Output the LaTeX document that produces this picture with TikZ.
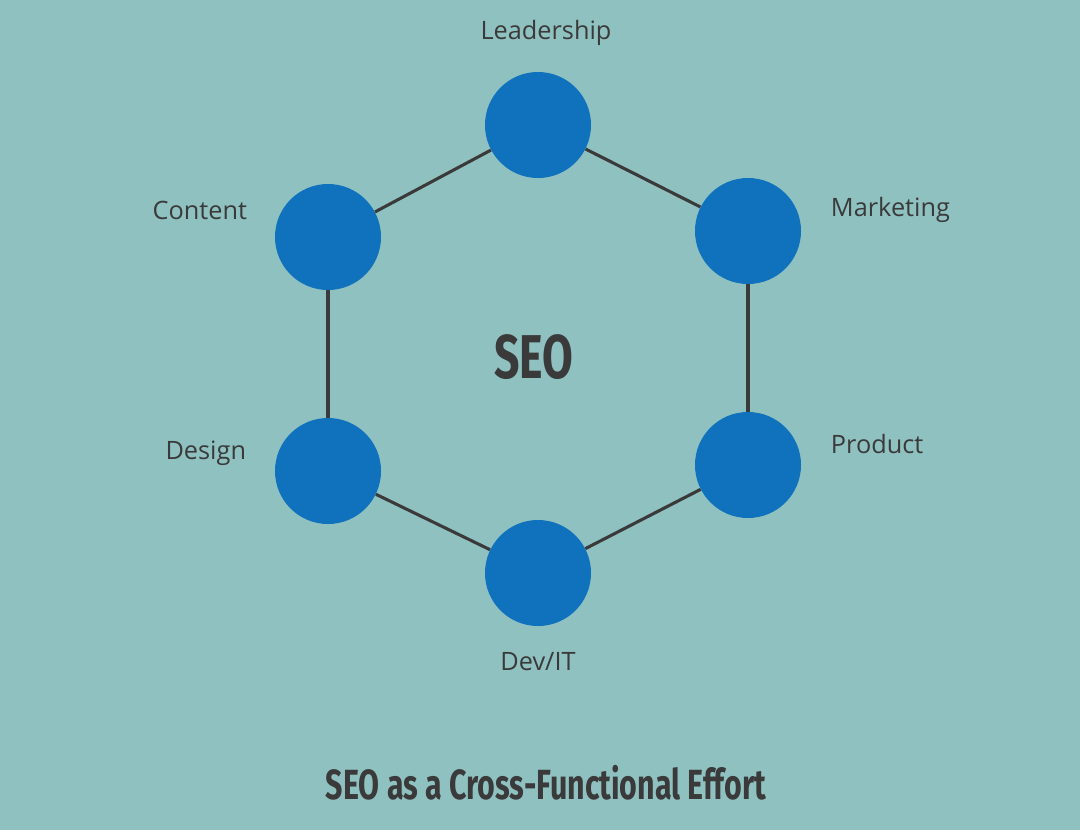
\documentclass[tikz,border=0pt]{standalone}
\usepackage{fontspec}
\setmainfont{Open Sans}
\newfontfamily\headfont{Fira Sans}
\usetikzlibrary{positioning}
\definecolor{bgteal}{HTML}{8FC1C1}
\definecolor{dotblue}{HTML}{1072BC}
\definecolor{inkgray}{HTML}{3A3A3A}
\tikzset{
    team/.style={circle, fill=dotblue, minimum size=106\pgflinewidth, inner sep=0pt},
    tlabel/.style={text=inkgray, font=\fontsize{18}{22}\selectfont},
    link/.style={draw=inkgray, line width=2.2pt}
}
\begin{document}
\begin{tikzpicture}[x=0.025cm, y=-0.025cm]
\fill[bgteal] (0,0) rectangle (1080,830);

% team circles
\node[team, minimum size=2.65cm] (lead) at (538,125) {};
\node[team, minimum size=2.65cm] (mark) at (748,231) {};
\node[team, minimum size=2.65cm] (prod) at (748,465) {};
\node[team, minimum size=2.65cm] (dev)  at (538,573) {};
\node[team, minimum size=2.65cm] (des)  at (328,471) {};
\node[team, minimum size=2.65cm] (cont) at (328,237) {};

% hexagon edges
\draw[link] (lead) -- (mark);
\draw[link] (mark) -- (prod);
\draw[link] (prod) -- (dev);
\draw[link] (dev) -- (des);
\draw[link] (des) -- (cont);
\draw[link] (cont) -- (lead);

% labels
\node[tlabel] (leadL) at (546,33) {Leadership};
\node[tlabel, anchor=west] (markL) at (826,210) {Marketing};
\node[tlabel, anchor=west] (prodL) at (826,444) {Product};
\node[tlabel] (devL) at (538,662) {Dev/IT};
\node[tlabel, anchor=east] (desL) at (251,453) {Design};
\node[tlabel, anchor=east] (contL) at (252,210) {Content};

% center and title
\node[text=inkgray, font=\headfont\bfseries\fontsize{44}{50}\selectfont, xscale=0.72] (seo) at (534,357) {SEO};
\node[text=inkgray, font=\headfont\bfseries\fontsize{30}{36}\selectfont, xscale=0.72] (title) at (546,783) {SEO as a Cross-Functional Effort};
\end{tikzpicture}
\end{document}
